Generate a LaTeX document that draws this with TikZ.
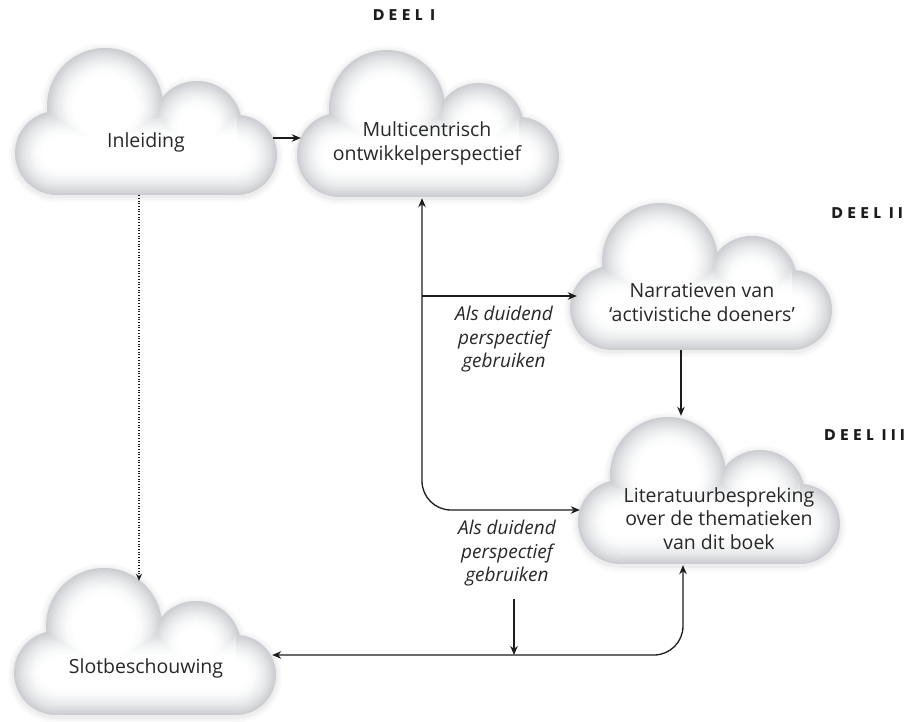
\documentclass[tikz,border=0pt]{standalone}
\usepackage{fontspec}
\setmainfont{Open Sans}
\newfontfamily\deelfont[LetterSpace=30]{Poppins}
\usetikzlibrary{arrows.meta,calc}
\definecolor{cloudedge}{RGB}{204,206,210}
\definecolor{ink}{RGB}{28,28,28}
\definecolor{txt}{RGB}{40,40,40}
\newcommand\cloudlayer[2]{%
  \fill[#1] (90,58) circle[radius={58-(#2)}];
  \fill[#1] (182,78) circle[radius={45-(#2)}];
  \fill[#1] (42,105) circle[radius={42-(#2)}];
  \fill[#1] (222,107) circle[radius={40-(#2)}];
  \fill[#1] (42,{62+(#2)}) rectangle (222,{147-(#2)});}
\newcommand\drawcloud[1]{%
  \begin{scope}[shift={#1}]
    \begin{scope}[yshift=-1.5pt]
      \cloudlayer{black!2}{-6}
      \cloudlayer{black!4}{-4}
      \cloudlayer{black!7}{-2}
    \end{scope}
    \foreach \k in {0,...,15}{%
      \pgfmathsetmacro\dd{1.9*\k}%
      \pgfmathtruncatemacro\pp{100*(1-\k/15)^1.8}%
      \cloudlayer{cloudedge!\pp!white}{\dd}}
  \end{scope}}
\tikzset{
  cloudbox/.style={rectangle, draw=none, inner sep=0pt, minimum width=262pt, minimum height=147pt},
  ctext/.style={align=center, text=txt, font=\fontsize{19.5}{23.5}\selectfont, inner sep=0pt},
  lab/.style={align=center, text=txt, font=\fontsize{19}{23.5}\selectfont\itshape, inner sep=0pt},
  deel/.style={text=ink, font=\fontsize{15.5}{18}\selectfont\deelfont\bfseries, inner sep=0pt},
  arr/.style={-{Stealth[length=9pt,width=7.5pt]}, line width=1.3pt, draw=ink},
  darr/.style={{Stealth[length=9pt,width=7.5pt]}-{Stealth[length=9pt,width=7.5pt]}, line width=1.3pt, draw=ink, rounded corners=29pt},
  dotarr/.style={-{Stealth[length=7pt,width=6pt]}, line width=1.1pt, draw=ink, dash pattern=on 1pt off 1.7pt}
}
\begin{document}
\begin{tikzpicture}[x=1pt,y=-1pt]
\useasboundingbox (0,0) rectangle (914,722);
\fill[white] (0,0) rectangle (914,722);

% clouds
\drawcloud{(15,48)}
\drawcloud{(297,50)}
\drawcloud{(570,203)}
\drawcloud{(578,417)}
\drawcloud{(14,568)}

\node[cloudbox] (inl) at (146,121.5) {};
\node[cloudbox] (mc) at (428,123.5) {};
\node[cloudbox] (nar) at (701,276.5) {};
\node[cloudbox] (lit) at (709,490.5) {};
\node[cloudbox] (slot) at (145,641.5) {};

% texts
\node[ctext] (inlt) at (146,142) {Inleiding};
\node[ctext] (mct) at (427,143.5) {Multicentrisch\\ontwikkelperspectief};
\node[ctext] (nart) at (702,302.5) {Narratieven van\\`activistiche doeners'};
\node[ctext] (litt) at (719,518.5) {Literatuurbespreking\\over de thematieken\\van dit boek};
\node[ctext] (slott) at (146,668) {Slotbeschouwing};

\node[lab] (lab1) at (504,339.5) {Als duidend\\perspectief\\gebruiken};
\node[lab] (lab2) at (507,553.5) {Als duidend\\perspectief\\gebruiken};

\node[deel] (d1) at (404,15) {DEEL I};
\node[deel, anchor=east] (d2) at (903,213) {DEEL II};
\node[deel, anchor=east] (d3) at (905,435) {DEEL III};

% attach points
\coordinate (inlR) at ([shift={(-4pt,-16.5pt)}]inl.east);
\coordinate (inlB) at ([shift={(-7pt,0pt)}]inl.south);
\coordinate (mcL) at ([shift={(4pt,-14.5pt)}]mc.west);
\coordinate (mcB) at ([shift={(-6pt,-1pt)}]mc.south);
\coordinate (narL) at ([shift={(7pt,-19.5pt)}]nar.west);
\coordinate (narB) at ([shift={(-20pt,0pt)}]nar.south);
\coordinate (litT) at ([shift={(-28pt,1pt)}]lit.north);
\coordinate (litL) at ([shift={(2pt,-19.5pt)}]lit.west);
\coordinate (litB) at ([shift={(-26pt,-1pt)}]lit.south);
\coordinate (slotR) at ([shift={(-4pt,-13.5pt)}]slot.east);
\coordinate (slotT) at ([shift={(-6pt,-13pt)}]slot.north);
\coordinate (dn) at ([shift={(7pt,-12pt)}]lab2.south);

% connectors
\draw[arr] (inlR) -- (mcL);
\draw[darr] (mcB) -- (mcB |- litL) -- (litL);
\draw[arr] (mcB |- narL) -- (narL);
\draw[arr] (narB) -- (litT);
\draw[darr] (litB) -- (litB |- slotR) -- (slotR);
\draw[arr] (dn) -- (dn |- slotR);
\draw[dotarr] (inlB) -- (slotT);
\end{tikzpicture}
\end{document}
